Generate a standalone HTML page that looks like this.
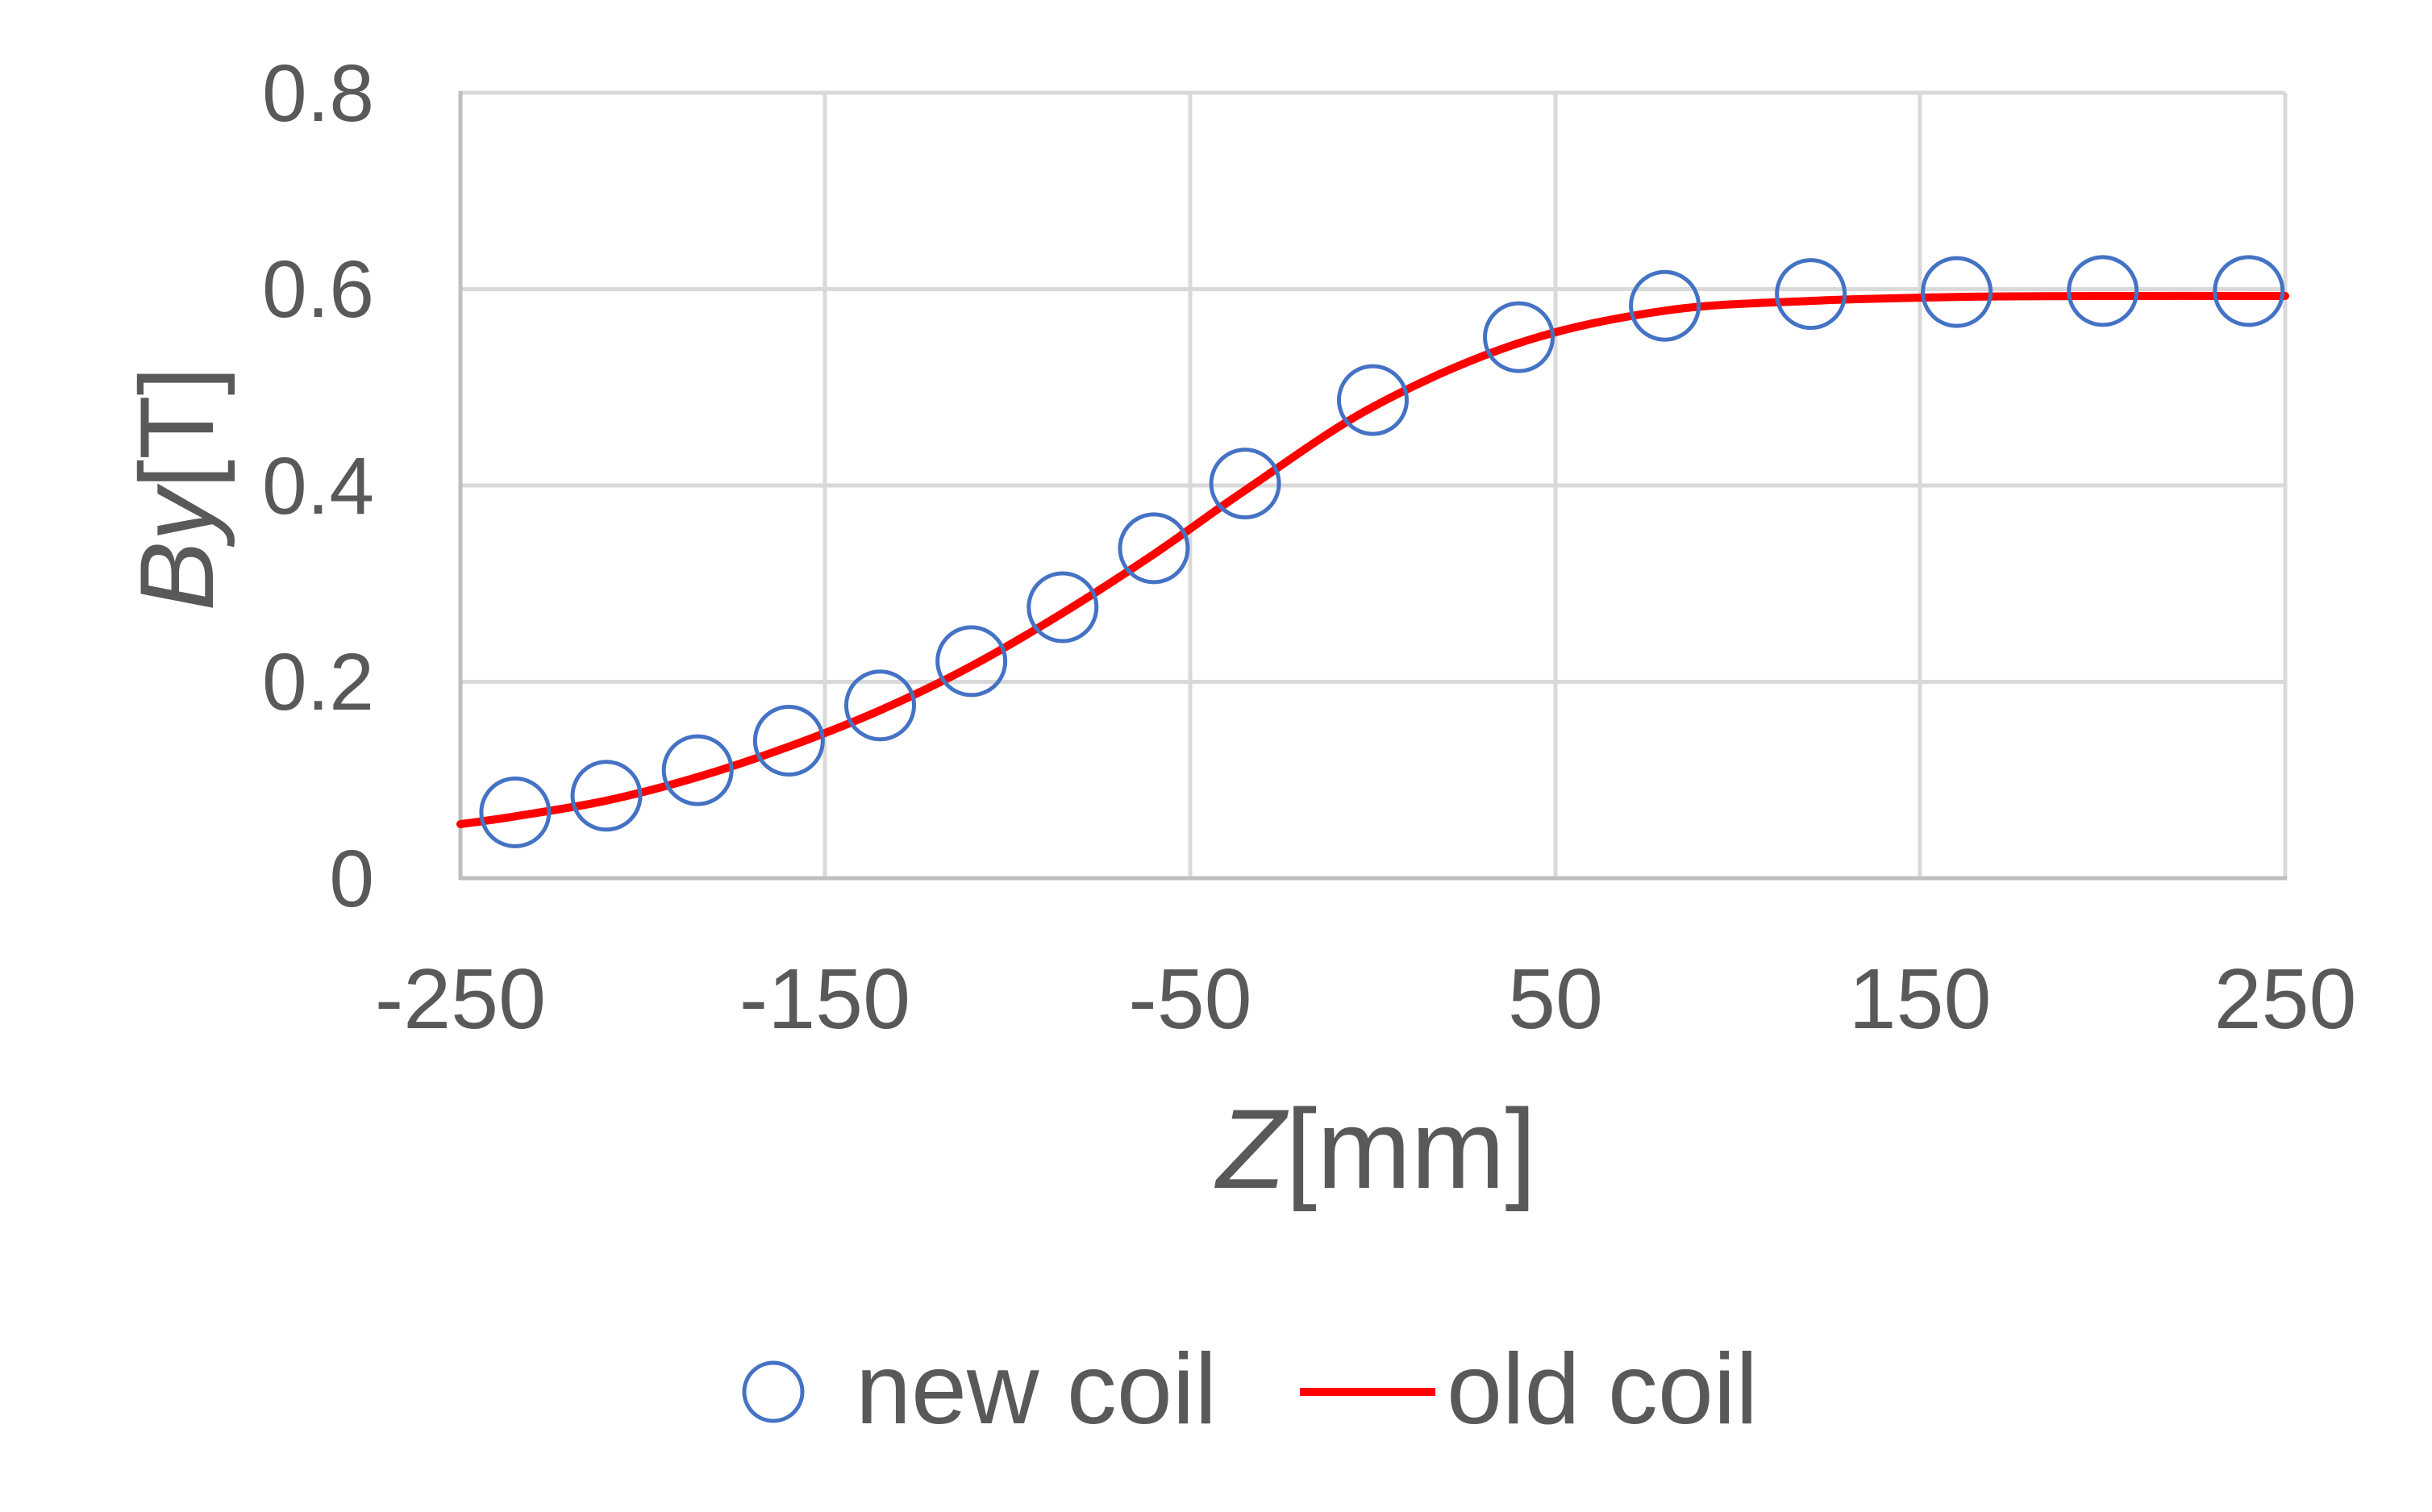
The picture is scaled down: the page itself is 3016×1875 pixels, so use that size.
<!DOCTYPE html>
<html><head><meta charset="utf-8"><style>
html,body{margin:0;padding:0;background:#fff;}
svg{display:block;}
text{font-family:"Liberation Sans",sans-serif;fill:#595959;}
</style></head><body>
<svg id="s" width="3016" height="1875" viewBox="0 0 3016 1875" xmlns="http://www.w3.org/2000/svg">
<g stroke="#d9d9d9" stroke-width="5">
<line x1="571" y1="115" x2="2834" y2="115"/>
<line x1="571" y1="358.5" x2="2834" y2="358.5"/>
<line x1="571" y1="602" x2="2834" y2="602"/>
<line x1="571" y1="845.5" x2="2834" y2="845.5"/>
<line x1="1023" y1="115" x2="1023" y2="1089"/>
<line x1="1476" y1="115" x2="1476" y2="1089"/>
<line x1="1929" y1="115" x2="1929" y2="1089"/>
<line x1="2381" y1="115" x2="2381" y2="1089"/>
<line x1="2834" y1="115" x2="2834" y2="1089"/>
</g>
<g stroke="#bfbfbf" stroke-width="5">
<line x1="571" y1="113" x2="571" y2="1091"/>
<line x1="569" y1="1089" x2="2836" y2="1089"/>
</g>
<g font-size="100" text-anchor="end">
<text x="464" y="150">0.8</text>
<text x="464" y="393">0.6</text>
<text x="464" y="637">0.4</text>
<text x="464" y="880">0.2</text>
<text x="464" y="1124">0</text>
</g>
<g font-size="106" text-anchor="middle">
<text x="571" y="1275">-250</text>
<text x="1023" y="1275">-150</text>
<text x="1476" y="1275">-50</text>
<text x="1929" y="1275">50</text>
<text x="2381" y="1275">150</text>
<text x="2834" y="1275">250</text>
</g>
<text x="1707" y="1473" font-size="140" text-anchor="middle"><tspan font-style="italic">Z</tspan>[mm]</text>
<text transform="translate(264,606) rotate(-90)" font-size="130" text-anchor="middle"><tspan font-style="italic">By</tspan>[T]</text>
<path id="curve" fill="none" stroke="#ff0000" stroke-width="10" stroke-linecap="round"/>
<g id="marks" fill="none" stroke="#4472c4" stroke-width="5"></g>
<circle cx="959" cy="1726" r="36" fill="none" stroke="#4472c4" stroke-width="5"/>
<text x="1061" y="1765" font-size="124">new coil</text>
<line x1="1612" y1="1726" x2="1780" y2="1726" stroke="#ff0000" stroke-width="10"/>
<text x="1794" y="1765" font-size="124">old coil</text>
</svg>
<script>
function X(z){return 571+(z+250)*4.526;}
function Y(v){return 1089-v*1217.5;}
var m=[[-235,0.067],[-210,0.084],[-185,0.11],[-160,0.14],[-135,0.176],[-110,0.221],[-85,0.276],[-60,0.336],[-35,0.402],[0,0.487],[40,0.551],[80,0.583],[120,0.595],[160,0.597],[200,0.598],[240,0.598]];
var g=document.getElementById('marks'),h='';
m.forEach(function(p){h+='<circle cx="'+X(p[0])+'" cy="'+Y(p[1])+'" r="42"/>';});
g.innerHTML=h;
var c=[[-250,0.055],[-235,0.063],[-210,0.079],[-185,0.103],[-160,0.134],[-135,0.171],[-110,0.216],[-85,0.270],[-60,0.330],[-35,0.395],[0,0.480],[40,0.545],[80,0.578],[120,0.588],[160,0.592],[200,0.593],[250,0.593]];
var pts=c.map(function(p){return [X(p[0]),Y(p[1])];});
var d='M'+pts[0][0]+','+pts[0][1];
for(var i=0;i<pts.length-1;i++){
var p0=pts[i-1]||pts[i],p1=pts[i],p2=pts[i+1],p3=pts[i+2]||p2;
var c1x=p1[0]+(p2[0]-p0[0])/6,c1y=p1[1]+(p2[1]-p0[1])/6;
var c2x=p2[0]-(p3[0]-p1[0])/6,c2y=p2[1]-(p3[1]-p1[1])/6;
d+=' C'+c1x+','+c1y+' '+c2x+','+c2y+' '+p2[0]+','+p2[1];}
document.getElementById('curve').setAttribute('d',d);
</script>
</body></html>
